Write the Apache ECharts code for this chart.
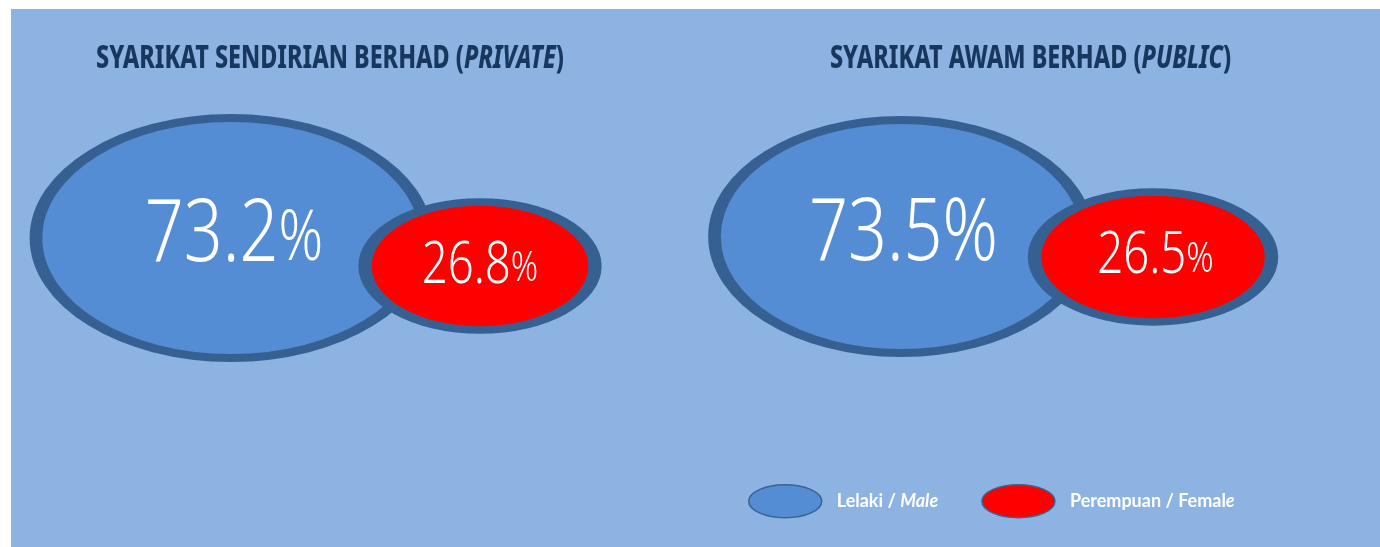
<!DOCTYPE html>
<html>
<head>
<meta charset="utf-8">
<script src="https://cdn.jsdelivr.net/npm/echarts@6/dist/echarts.min.js"></script>
<style>
  html, body { margin: 0; padding: 0; background: #ffffff; }
  #chart { position: absolute; left: 11px; top: 9px; width: 1369px; height: 538px; }
</style>
</head>
<body>
<div id="chart"></div>
<script>
// data
var groups = ["SYARIKAT SENDIRIAN BERHAD", "SYARIKAT AWAM BERHAD"];
var groupTags = ["PRIVATE", "PUBLIC"];
var maleShare = [73.2, 73.5];
var femaleShare = [26.8, 26.5];

// ellipse shape (bezier, 73x33 box so the legend icon keeps its shape)
var ellipsePath = "path://M36.5,0 C56.66,0 73,7.39 73,16.5 C73,25.61 56.66,33 36.5,33 " +
  "C16.34,33 0,25.61 0,16.5 C0,7.39 16.34,0 36.5,0 Z";

// layout per group
var maleSize = [[390, 240], [373, 233]];
var maleOffset = [[-119, 0], [-121, -1.5]];
var maleTextShift = [[3, -1.5], [2.5, -1]];
var femaleSize = [[230, 128], [237, 130]];
var femaleOffset = [[130, 28], [131, 19]];
var femaleTextShift = [[0, 0], [2.5, -0.5]];

var font = "'Noto Sans', 'DejaVu Sans', sans-serif";
var squeeze = 0.785; // the original uses a condensed face

var labelData = [];
groups.forEach(function (g, i) {
  labelData.push([g, "share", maleShare[i], 0]);
  labelData.push([g, "share", femaleShare[i], 1]);
});

var chart = echarts.init(document.getElementById("chart"));

var option = {
  backgroundColor: "#8db3e2",
  animation: false,
  graphic: groups.map(function (g, i) {
    return {
      type: "text",
      x: i == 0 ? 330 - 11 : 1030.5 - 11,
      y: 50,
      scaleX: 0.73,
      style: {
        text: "{b|" + g + " (}{i|" + groupTags[i] + "}{b|)}",
        align: "center",
        verticalAlign: "middle",
        rich: {
          b: { fontFamily: font, fontWeight: 800, fontSize: 32, fill: "#17375e" },
          i: { fontFamily: font, fontWeight: 800, fontStyle: "italic", fontSize: 32, fill: "#17375e" },
        },
      },
    };
  }),
  legend: {
    left: 732,
    top: 470,
    itemWidth: 73,
    itemHeight: 33,
    itemGap: 43,
    icon: ellipsePath,
    data: [
      { name: "Lelaki / Male", itemStyle: { borderWidth: 1.5, borderColor: "#3a6391" } },
      { name: "Perempuan / Female", itemStyle: { borderWidth: 1.5, borderColor: "#3a6391" } },
    ],
    formatter: function (name) {
      if (name == "Lelaki / Male") {
        return "{b|Lelaki / }{i|Male}";
      }
      return "{b|Perempuan / Femal}{i|e}";
    },
    textStyle: {
      padding: [0, 0, 0, 10],
      rich: {
        b: { fontFamily: "Lato", fontWeight: "bold", fontSize: 18, color: "#ffffff" },
        i: { fontFamily: "Lato", fontWeight: "bold", fontStyle: "italic", fontSize: 18, color: "#ffffff" },
      },
    },
  },
  grid: { left: 3, right: 22, top: 0, bottom: 80 },
  xAxis: { type: "category", data: groups, show: false },
  yAxis: { type: "category", data: ["share"], show: false },
  series: [
    {
      name: "Lelaki / Male",
      type: "scatter",
      symbol: ellipsePath,
      itemStyle: { color: "#548dd4", borderColor: "#376092", borderWidth: 10, opacity: 1 },
      data: maleShare.map(function (v, i) {
        return {
          value: [groups[i], "share", v],
          symbolSize: maleSize[i],
          symbolOffset: maleOffset[i],
        };
      }),
    },
    {
      name: "Perempuan / Female",
      type: "scatter",
      symbol: ellipsePath,
      itemStyle: { color: "#ff0000", borderColor: "#376092", borderWidth: 10, opacity: 1 },
      data: femaleShare.map(function (v, i) {
        return {
          value: [groups[i], "share", v],
          symbolSize: femaleSize[i],
          symbolOffset: femaleOffset[i],
        };
      }),
    },
    {
      // percentage labels, drawn narrow like the original condensed font
      name: "labels",
      type: "custom",
      silent: true,
      z: 5,
      encode: { x: 0, y: 1 },
      data: labelData,
      renderItem: function (params, api) {
        var gi = api.value(0);
        var kind = api.value(3);
        var c = api.coord([gi, api.value(1)]);
        var off = kind == 0 ? maleOffset[gi] : femaleOffset[gi];
        var shift = kind == 0 ? maleTextShift[gi] : femaleTextShift[gi];
        var nSize = kind == 0 ? 87 : 58;
        var pSize = kind == 0 ? (gi == 0 ? 70 : 87) : 43;
        var pPad = kind == 0 ? (gi == 0 ? 8 : 0) : 6;
        return {
          type: "text",
          x: c[0] + off[0] + shift[0],
          y: c[1] + off[1] + shift[1],
          scaleX: squeeze,
          style: {
            text: "{n|" + api.value(2) + "}{p|%}",
            align: "center",
            verticalAlign: "middle",
            rich: {
              n: { fontFamily: font, fontWeight: 300, fontSize: nSize, fill: "#ffffff" },
              p: { fontFamily: font, fontWeight: 300, fontSize: pSize, fill: "#ffffff", padding: [pPad, 0, 0, 0] },
            },
          },
        };
      },
    },
  ],
};

chart.setOption(option);
</script>
</body>
</html>
